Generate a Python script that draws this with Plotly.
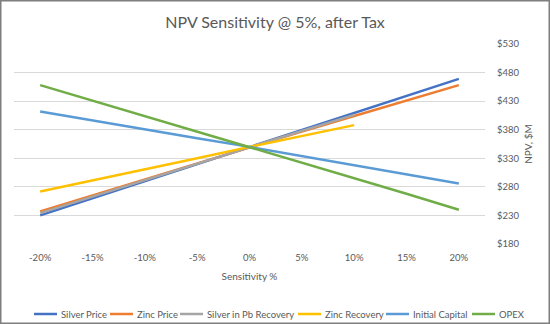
import plotly.graph_objects as go

sens = [-20, -15, -10, -5, 0, 5, 10, 15, 20]
sens_labels = ["-20%", "-15%", "-10%", "-5%", "0%", "5%", "10%", "15%", "20%"]

silver_price = [230, 260, 290, 320, 350, 380, 410, 440, 469]
zinc_price = [237, 265, 294, 322, 350, 377, 404, 431, 458]
silver_pb_recovery = [234, 263, 292, 321, 350, 378, 406]
zinc_recovery = [272, 291, 311, 330, 350, 369, 388]
initial_capital = [412, 396, 381, 365, 350, 334, 318, 302, 286]
opex = [458, 431, 404, 377, 350, 323, 296, 268, 240]

series_names = ["Silver Price", "Zinc Price", "Silver in Pb Recovery",
                "Zinc Recovery", "Initial Capital", "OPEX"]
series_values = [silver_price, zinc_price, silver_pb_recovery,
                 zinc_recovery, initial_capital, opex]
series_colors = ["#4472C4", "#ED7D31", "#A5A5A5", "#FFC000", "#5B9BD5", "#70AD47"]

font_family = "Lato, 'Open Sans', sans-serif"
txt = "#595959"

W, H = 550, 324
L, R, T, B = 14, 65, 44, 80
pw, ph = W - L - R, H - T - B


def px(x):
    return (x - L) / pw


def py(y):
    return (H - B - y) / ph


fig = go.Figure()
for name, vals, color in zip(series_names, series_values, series_colors):
    fig.add_trace(go.Scatter(
        x=sens[:len(vals)], y=vals, mode="lines", name=name,
        line=dict(color=color, width=2.5), showlegend=False,
    ))

# manual legend (single row, like the reference)
legend_line_x = [34, 110, 180, 298, 386, 472]
legend_y = 314
shapes = []
annotations = []
for lx, name, color in zip(legend_line_x, series_names, series_colors):
    shapes.append(dict(type="line", xref="paper", yref="paper",
                       x0=px(lx), x1=px(lx + 23), y0=py(legend_y), y1=py(legend_y),
                       line=dict(color=color, width=2.5)))
    annotations.append(dict(text=name, xref="paper", yref="paper",
                            x=px(lx + 24.5), y=py(legend_y), xanchor="left",
                            yanchor="middle", showarrow=False,
                            font=dict(size=9.5, color=txt, family=font_family)))

# outer border of the chart
shapes.append(dict(type="rect", xref="paper", yref="paper",
                   x0=px(0.75), x1=px(W - 0.75), y0=py(H - 0.75), y1=py(0.75),
                   line=dict(color="#7F7F7F", width=1.5), layer="above"))

fig.update_layout(
    width=W, height=H,
    margin=dict(l=L, r=R, t=T, b=B, autoexpand=False),
    paper_bgcolor="white", plot_bgcolor="white",
    font=dict(family=font_family, color=txt, size=9.5),
    title=dict(text="NPV Sensitivity @ 5%, after Tax", x=0.5, xanchor="center",
               y=1 - 22 / H, yanchor="middle",
               font=dict(size=16, color=txt, family=font_family)),
    showlegend=False,
    xaxis=dict(
        range=[-22.5, 22.5], tickmode="array", tickvals=sens, ticktext=sens_labels,
        showgrid=False, zeroline=False, showline=False, ticks="",
        ticklabelstandoff=6,
        title=dict(text="Sensitivity %", font=dict(size=10, color=txt), standoff=11),
        tickfont=dict(size=9.5, color=txt),
    ),
    yaxis=dict(
        range=[180, 530], dtick=50, tick0=180, side="right", tickprefix="$",
        showgrid=True, gridcolor="#D9D9D9", gridwidth=1, zeroline=False,
        showline=False, ticks="", ticklabelstandoff=11,
        title=dict(text="NPV, $M", font=dict(size=10, color=txt), standoff=6),
        tickfont=dict(size=9.5, color=txt),
    ),
    shapes=shapes,
    annotations=annotations,
)

fig.write_html("out.html")
